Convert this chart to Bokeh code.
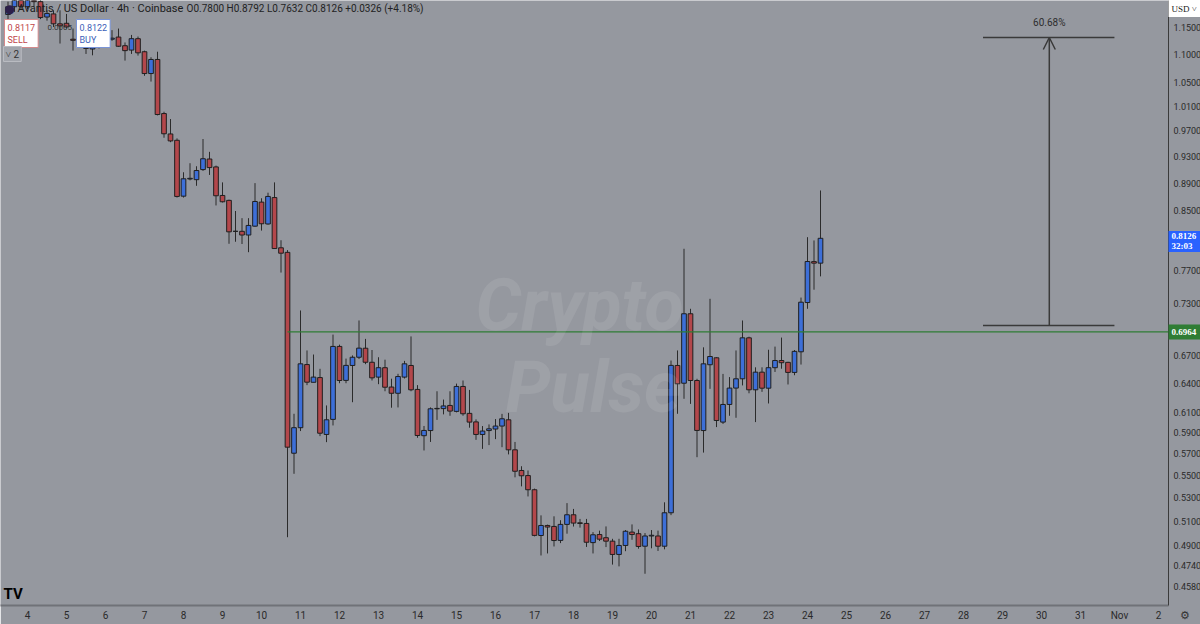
import numpy as np
from bokeh.plotting import figure
from bokeh.models import (Range1d, FixedTicker, NumeralTickFormatter, Label,
                          Arrow, OpenHead, ColumnDataSource)
from bokeh.embed import file_html
from bokeh.resources import INLINE

# Avantis / USD, 4h candles (Coinbase). first bar sits 3 bars before Oct 4 00:00
first_bar = -3
opens = [1.175, 1.190, 1.205, 1.190, 1.210, 1.200, 1.170, 1.176, 1.157, 1.158,
         1.128, 1.124, 1.125, 1.110, 1.120, 1.127, 1.128, 1.132, 1.116, 1.108,
         1.129, 1.105, 1.066, 1.091, 0.998, 0.965, 0.955, 0.871, 0.896, 0.895,
         0.910, 0.926, 0.914, 0.872, 0.865, 0.822, 0.822, 0.817, 0.829, 0.8625,
         0.832, 0.869, 0.800, 0.794, 0.5703, 0.5948, 0.660, 0.641, 0.646, 0.5882,
         0.603, 0.680, 0.643, 0.659, 0.668, 0.678, 0.6625, 0.6465, 0.6566, 0.636,
         0.6295, 0.6465, 0.659, 0.6335, 0.587, 0.592, 0.6136, 0.6138, 0.617, 0.611,
         0.6366, 0.609, 0.6005, 0.5882, 0.592, 0.5935, 0.5964, 0.6026, 0.5735, 0.5543,
         0.5497, 0.537, 0.498, 0.5063, 0.5055, 0.494, 0.5072, 0.5153, 0.5085, 0.508,
         0.4922, 0.4988, 0.4962, 0.4934, 0.4827, 0.4899, 0.5008, 0.4995, 0.4893, 0.4976,
         0.4976, 0.4893, 0.517, 0.659, 0.640, 0.7176, 0.6429, 0.592, 0.6598, 0.6674,
         0.6003, 0.618, 0.6349, 0.6447, 0.6897, 0.6331, 0.6518, 0.6348, 0.6566, 0.6644,
         0.6624, 0.6515, 0.674, 0.731, 0.782, 0.780]
highs = [1.200, 1.215, 1.220, 1.215, 1.225, 1.215, 1.183, 1.183, 1.183, 1.176,
         1.148, 1.128, 1.128, 1.127, 1.139, 1.139, 1.145, 1.148, 1.122, 1.136,
         1.133, 1.107, 1.095, 1.105, 1.001, 0.989, 0.958, 0.906, 0.9196, 0.915,
         0.957, 0.937, 0.916, 0.891, 0.866, 0.850, 0.840, 0.840, 0.8899, 0.868,
         0.876, 0.891, 0.810, 0.797, 0.6086, 0.7215, 0.6755, 0.671, 0.6554, 0.617,
         0.6934, 0.682, 0.6665, 0.670, 0.7097, 0.6885, 0.676, 0.668, 0.6653, 0.6448,
         0.650, 0.664, 0.6913, 0.638, 0.5965, 0.615, 0.6316, 0.623, 0.6316, 0.6396,
         0.6429, 0.633, 0.603, 0.5964, 0.598, 0.6033, 0.6085, 0.6095, 0.581, 0.5582,
         0.5543, 0.538, 0.5148, 0.507, 0.514, 0.5107, 0.5253, 0.5203, 0.5118, 0.5118,
         0.5008, 0.502, 0.5055, 0.4953, 0.4953, 0.5025, 0.5072, 0.503, 0.500, 0.5025,
         0.502, 0.526, 0.6644, 0.6755, 0.7987, 0.7235, 0.6447, 0.679, 0.7355, 0.668,
         0.6499, 0.6465, 0.6755, 0.7097, 0.691, 0.657, 0.657, 0.6763, 0.6798, 0.690,
         0.663, 0.676, 0.737, 0.8141, 0.8097, 0.8792]
lows = [1.165, 1.180, 1.185, 1.185, 1.190, 1.166, 1.163, 1.151, 1.120, 1.148,
        1.107, 1.116, 1.101, 1.0985, 1.111, 1.117, 1.125, 1.114, 1.089, 1.101,
        1.098, 1.062, 1.052, 0.995, 0.959, 0.952, 0.869, 0.869, 0.894, 0.886,
        0.908, 0.902, 0.8578, 0.862, 0.8053, 0.808, 0.805, 0.7942, 0.828, 0.823,
        0.831, 0.7985, 0.768, 0.4966, 0.5513, 0.5915, 0.638, 0.641, 0.5866, 0.5808,
        0.597, 0.640, 0.640, 0.6203, 0.666, 0.6604, 0.6429, 0.639, 0.6316, 0.6147,
        0.615, 0.645, 0.6316, 0.585, 0.5729, 0.581, 0.6025, 0.608, 0.6066, 0.610,
        0.6066, 0.5948, 0.583, 0.5744, 0.578, 0.5837, 0.576, 0.5692, 0.5481, 0.540,
        0.5311, 0.4973, 0.4819, 0.4835, 0.4891, 0.4918, 0.4995, 0.5054, 0.5045, 0.4887,
        0.4835, 0.4935, 0.4886, 0.4747, 0.4733, 0.4853, 0.4945, 0.4873, 0.4676, 0.4876,
        0.4855, 0.4868, 0.515, 0.6086, 0.6238, 0.6186, 0.5666, 0.5709, 0.6341, 0.5954,
        0.5985, 0.6066, 0.6046, 0.6377, 0.6295, 0.6003, 0.631, 0.619, 0.652, 0.6555,
        0.6387, 0.6485, 0.660, 0.7235, 0.7466, 0.7632]
closes = [1.190, 1.205, 1.190, 1.210, 1.200, 1.169, 1.177, 1.157, 1.153, 1.151,
          1.126, 1.128, 1.111, 1.121, 1.127, 1.128, 1.130, 1.115, 1.107, 1.129,
          1.103, 1.066, 1.091, 0.9964, 0.9653, 0.954, 0.8706, 0.8963, 0.897, 0.9086,
          0.9264, 0.913, 0.8716, 0.863, 0.8213, 0.822, 0.817, 0.830, 0.8634, 0.8323,
          0.8706, 0.799, 0.7929, 0.576, 0.5948, 0.6608, 0.6411, 0.6465, 0.5894, 0.6026,
          0.680, 0.6429, 0.6591, 0.668, 0.6781, 0.6625, 0.6457, 0.6566, 0.6358, 0.6295,
          0.6471, 0.6608, 0.6331, 0.5872, 0.5921, 0.6136, 0.614, 0.6165, 0.6113, 0.6366,
          0.6086, 0.6003, 0.5882, 0.5915, 0.5937, 0.5964, 0.6036, 0.5735, 0.5536, 0.5495,
          0.537, 0.4981, 0.5063, 0.505, 0.4939, 0.5072, 0.5153, 0.5083, 0.508, 0.4925,
          0.4986, 0.495, 0.4934, 0.4827, 0.4899, 0.5015, 0.4988, 0.4891, 0.4976, 0.4982,
          0.4893, 0.517, 0.6591, 0.6394, 0.7176, 0.6429, 0.5921, 0.6608, 0.6688, 0.6019,
          0.618, 0.6349, 0.6447, 0.6897, 0.6331, 0.6518, 0.6348, 0.6566, 0.6644, 0.662,
          0.6515, 0.6745, 0.7314, 0.7821, 0.780, 0.8126]

day_ticks = list(range(4, 34))
day_names = {32: "Nov", 33: "2"}
price_ticks = [1.15, 1.10, 1.05, 1.01, 0.97, 0.93, 0.89, 0.85, 0.77, 0.73, 0.67,
               0.64, 0.61, 0.59, 0.57, 0.55, 0.53, 0.51, 0.49, 0.474, 0.458, 0.443]

level = 0.6964
level_from_bar = 40
last_price = 0.8126
countdown = "32:03"
sell_price, buy_price = 0.8117, 0.8122
measure_low, measure_pct = 0.7040, 60.68
measure_x0, measure_x1, measure_xm = 28.5, 31.87, 30.2

BG = "#95989f"
UP = "#3d6fd8"
DOWN = "#b3474b"
FONT = "Roboto"

# frame geometry: 39 px per day, 607 px per e-fold of price
FW, FH = 1168, 605
day_px, ln_px = 39.0, 607.0
x_start = 4 - 27 / day_px
x_end = x_start + FW / day_px
y_top = 1.15 * np.exp(27 / ln_px)
y_bot = y_top * np.exp(-FH / ln_px)


def dx(cx):
    return x_start + cx / day_px


def dy(cy):
    return y_top * np.exp(-cy / ln_px)


n = len(opens)
x = 4 + (np.arange(n) + first_bar) / 6.0
o = np.array(opens)
c = np.array(closes)
src = ColumnDataSource(dict(
    x=x, high=highs, low=lows,
    top=np.maximum(o, c), bottom=np.minimum(o, c),
    color=[UP if cc >= oo else DOWN for oo, cc in zip(o, c)],
))

p = figure(frame_width=FW, frame_height=FH, x_range=Range1d(x_start, x_end),
           y_range=Range1d(y_bot, y_top), y_axis_type="log",
           y_axis_location="right", output_backend="svg", toolbar_location=None,
           min_border_left=0, min_border_top=0, min_border_right=32,
           min_border_bottom=19)
p.background_fill_color = BG
p.border_fill_color = BG
p.outline_line_color = None
p.grid.visible = False

p.segment(x0="x", y0="low", x1="x", y1="high", source=src,
          line_color="#2b2b2b", line_width=1)
p.vbar(x="x", width=0.12, top="top", bottom="bottom", source=src,
       fill_color="color", line_color="#1f1f1f", line_width=1)

# horizontal level
p.segment(x0=[4 + level_from_bar / 6.0], y0=[level], x1=[x_end], y1=[level],
          line_color="#2f7d34", line_width=1.2)

# measure tool
measure_high = measure_low * (1 + measure_pct / 100)
p.segment(x0=[measure_x0, measure_x0], y0=[measure_low, measure_high],
          x1=[measure_x1, measure_x1], y1=[measure_low, measure_high],
          line_color="#3a3a3a", line_width=1.5)
p.add_layout(Arrow(end=OpenHead(size=12, line_color="#3a3a3a", line_width=1.5),
                   x_start=measure_xm, y_start=measure_low,
                   x_end=measure_xm, y_end=measure_high,
                   line_color="#3a3a3a", line_width=1.5))
p.add_layout(Label(x=measure_xm, y=measure_high, text=f"{measure_pct:.2f}%",
                   text_align="center", text_baseline="bottom", y_offset=10,
                   text_font=FONT, text_font_size="10px", text_color="#2e2e2e"))

# axes
xa = p.xaxis[0]
xa.ticker = FixedTicker(ticks=day_ticks)
xa.major_label_overrides = day_names
xa.major_tick_line_color = None
xa.minor_tick_line_color = None
xa.major_tick_out = 0
xa.minor_tick_out = 0
xa.axis_line_color = "#707278"
xa.axis_line_width = 2
xa.major_label_standoff = 4
xa.major_label_text_font = FONT
xa.major_label_text_font_size = "10px"
xa.major_label_text_color = "#2a2a2a"

ya = p.yaxis[0]
ya.ticker = FixedTicker(ticks=price_ticks)
ya.formatter = NumeralTickFormatter(format="0.0000")
ya.major_tick_line_color = None
ya.minor_tick_line_color = None
ya.major_tick_out = 0
ya.minor_tick_out = 0
ya.axis_line_color = "#3b3b3b"
ya.major_label_standoff = 5
ya.major_label_text_font = FONT
ya.major_label_text_font_size = "9px"
ya.major_label_text_color = "#2a2a2a"

# price tags on the scale (overlay level so they are not clipped to the frame)
tag_x = x_end + 16 / day_px
txt_x = x_end + 3 / day_px
p.rect(x=[tag_x], y=[level], width=32, height=15, width_units="screen",
       height_units="screen", fill_color="#2f7d34", line_color=None,
       level="overlay")
p.text(x=[txt_x], y=[level], text=[f"{level:.4f}"], text_baseline="middle",
       text_font=FONT, text_font_size="9px", text_font_style="bold",
       text_color="white", level="overlay")
p.rect(x=[tag_x], y=[dy(241)], width=32, height=21, width_units="screen",
       height_units="screen", fill_color="#2962ff", line_color=None,
       level="overlay")
p.text(x=[txt_x, txt_x], y=[last_price, last_price],
       text=[f"{last_price:.4f}", countdown], y_offset=[-2, 8],
       text_baseline="middle", text_font=FONT, text_font_size="9px",
       text_font_style="bold", text_color="white", level="overlay")
p.rect(x=[tag_x], y=[dy(8)], width=32, height=17, width_units="screen",
       height_units="screen", fill_color="white", line_color=None,
       level="overlay")
p.text(x=[txt_x], y=[dy(8)], text=["USD ˅"], text_baseline="middle",
       text_font=FONT, text_font_size="9px", text_color="#222222",
       level="overlay")
p.text(x=[x_end + 16 / day_px], y=[dy(FH + 9)], text=["⚙"],
       text_align="center", text_baseline="middle", text_font="DejaVu Sans",
       text_font_size="11px", text_color="#333333", level="overlay")

# header
p.add_layout(Label(x=dx(4), y=dy(1), text="●", text_baseline="top",
                   text_font="DejaVu Sans", text_font_size="12px",
                   text_color="#2d1f4a"))
p.add_layout(Label(x=dx(17), y=dy(1), text="Avantis / US Dollar · 4h · Coinbase",
                   text_baseline="top", text_font=FONT, text_font_size="11px",
                   text_color="#1c1c1c"))
p.add_layout(Label(x=dx(186), y=dy(2),
                   text="O0.7800 H0.8792 L0.7632 C0.8126 +0.0326 (+4.18%)",
                   text_baseline="top", text_font=FONT, text_font_size="10px",
                   text_color="#232323"))
p.add_layout(Label(x=dx(4), y=dy(19), text=f"{sell_price:.4f}\nSELL",
                   text_align="left", text_baseline="top", text_font=FONT,
                   text_font_size="9px", text_color="#c0454a",
                   background_fill_color="white", border_line_color="#d48a8c",
                   padding=3))
p.add_layout(Label(x=dx(76), y=dy(19), text=f"{buy_price:.4f}\nBUY",
                   text_align="left", text_baseline="top", text_font=FONT,
                   text_font_size="9px", text_color="#3d5fb8",
                   background_fill_color="white", border_line_color="#7a95d8",
                   padding=3))
p.add_layout(Label(x=dx(47), y=dy(24), text=f"{buy_price - sell_price:.4f}",
                   text_baseline="top", text_font=FONT, text_font_size="8px",
                   text_color="#333333"))
p.add_layout(Label(x=dx(3), y=dy(46), text="˅ 2", text_baseline="top",
                   text_font=FONT, text_font_size="10px", text_color="#333333",
                   background_fill_color="#a2a5ac", border_line_color="#b9bbc1",
                   padding=2))

# watermark
p.add_layout(Label(x=dx(475), y=dy(305), text="Crypto",
                   text_baseline="alphabetic", text_font=FONT,
                   text_font_size="72px", text_font_style="bold italic",
                   text_color="white", text_alpha=0.09))
p.add_layout(Label(x=dx(505), y=dy(387), text="Pulse",
                   text_baseline="alphabetic", text_font=FONT,
                   text_font_size="72px", text_font_style="bold italic",
                   text_color="white", text_alpha=0.09))

# tradingview mark
p.add_layout(Label(x=dx(3), y=dy(584), text="TV", text_baseline="top",
                   text_font=FONT, text_font_size="15px", text_font_style="bold",
                   text_color="black"))

open("out.html", "w").write(file_html(p, INLINE))
